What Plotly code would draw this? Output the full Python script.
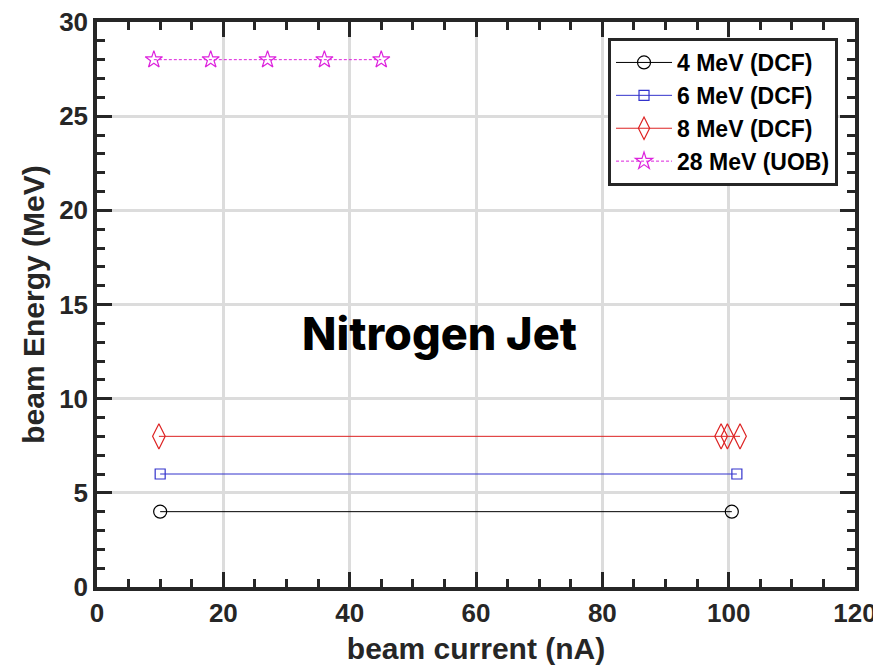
import plotly.graph_objects as go

# Data
x_4mev = [10, 100.5]
y_4mev = [4, 4]
x_6mev = [10, 101.3]
y_6mev = [6, 6]
x_8mev = [9.8, 98.8, 99.8, 101.8]
y_8mev = [8, 8, 8, 8]
x_28mev = [9, 18, 27, 36, 45]
y_28mev = [28, 28, 28, 28, 28]

names = ["4 MeV (DCF)", "6 MeV (DCF)", "8 MeV (DCF)", "28 MeV (UOB)"]

fig = go.Figure()
fig.add_trace(go.Scatter(x=x_4mev, y=y_4mev, mode="lines+markers", name="<b>" + names[0] + "</b>",
                         line=dict(color="black", width=1),
                         marker=dict(symbol="circle-open", size=13, color="black", line=dict(width=1.2))))
fig.add_trace(go.Scatter(x=x_6mev, y=y_6mev, mode="lines+markers", name="<b>" + names[1] + "</b>",
                         line=dict(color="#3333cc", width=1),
                         marker=dict(symbol="square-open", size=10, color="#3333cc", line=dict(width=1.2))))
fig.add_trace(go.Scatter(x=x_8mev, y=y_8mev, mode="lines+markers", name="<b>" + names[2] + "</b>",
                         line=dict(color="#dd2222", width=1),
                         marker=dict(symbol="diamond-tall-open", size=18, color="#dd2222", line=dict(width=1.2))))
fig.add_trace(go.Scatter(x=x_28mev, y=y_28mev, mode="lines+markers", name="<b>" + names[3] + "</b>",
                         line=dict(color="#dd22dd", width=1, dash="3px,2px"),
                         marker=dict(symbol="star-open", size=13, color="#dd22dd", line=dict(width=1.2))))

fig.add_annotation(x=54.3, y=13.45, xref="x", yref="y", text="Nitrogen Jet",
                   showarrow=False, font=dict(family="Inter", size=45, color="black", weight=800))

axis_common = dict(
    showline=True, linecolor="#262626", linewidth=3.5, mirror="allticks",
    ticks="inside", ticklen=15, tickwidth=3, tickcolor="#262626",
    showgrid=True, gridcolor="#dcdcdc", gridwidth=3, zeroline=False,
    tickfont=dict(family="Liberation Sans", size=26, color="#262626", weight="bold"),
    automargin=False, ticklabeloverflow="allow",
)

fig.update_xaxes(range=[0, 120], dtick=20, tick0=0,
                 title=dict(text="beam current (nA)", font=dict(family="Liberation Sans", size=30, color="#262626", weight="bold"), standoff=12),
                 minor=dict(dtick=5, ticks="inside", ticklen=8, tickwidth=2.5, tickcolor="#262626", showgrid=False),
                 **axis_common)
fig.update_yaxes(range=[0, 30], dtick=5, tick0=0,
                 title=dict(text="beam Energy (MeV)", font=dict(family="Liberation Sans", size=30, color="#262626", weight="bold"), standoff=7),
                 minor=dict(dtick=1, ticks="inside", ticklen=8, tickwidth=2.5, tickcolor="#262626", showgrid=False),
                 **axis_common)

fig.update_layout(
    width=873, height=671,
    margin=dict(l=97, r=18, t=22, b=84),
    plot_bgcolor="white", paper_bgcolor="white",
    showlegend=True,
    legend=dict(x=0.9776, y=0.9717, xanchor="right", yanchor="top",
                bordercolor="#262626", borderwidth=3, bgcolor="white",
                font=dict(family="Liberation Sans", size=23, color="black"),
                tracegroupgap=0, itemwidth=56),
)

# remove the default page margin so the 873x671 figure fills the window exactly
fig.write_html("out.html",
               config={"displayModeBar": False},
               post_script="document.body.style.margin='0';document.body.style.overflow='hidden';")
